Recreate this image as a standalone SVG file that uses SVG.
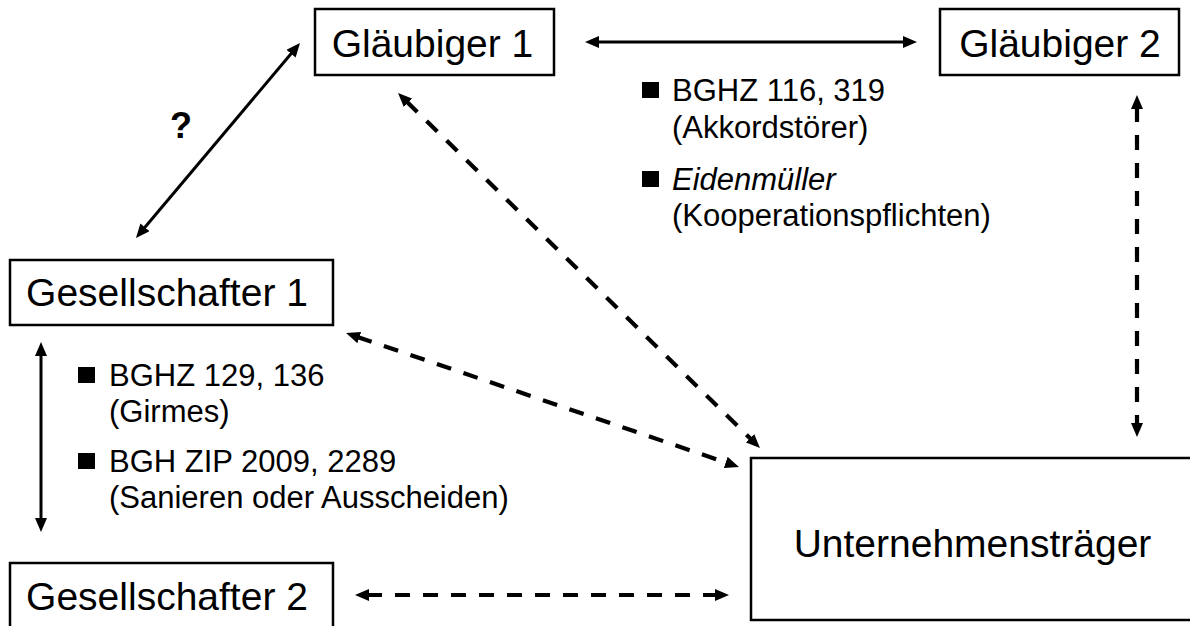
<svg xmlns="http://www.w3.org/2000/svg" width="1190" height="626" viewBox="0 0 1190 626">
<defs>
<marker id="ah" markerUnits="userSpaceOnUse" markerWidth="14" markerHeight="12" refX="2" refY="6" orient="auto-start-reverse">
<path d="M0,0 L14,6 L0,12 z" fill="#000"/>
</marker>
<style>
.box{fill:#fff;stroke:#000;stroke-width:2.5}
.bt{font-family:"Liberation Sans",Arial,sans-serif;font-size:39px;fill:#000;text-anchor:middle}
.tx{font-family:"Liberation Sans",Arial,sans-serif;font-size:31px;fill:#000}
.solid{stroke:#000;stroke-width:3;fill:none;marker-start:url(#ah);marker-end:url(#ah)}
.dash{stroke:#000;stroke-width:4.2;fill:none;stroke-dasharray:15 13;marker-start:url(#ah);marker-end:url(#ah)}
.bul{fill:#000}
</style>
</defs>
<rect width="1190" height="626" fill="#fff"/>
<g id="connectors">
<line class="solid" x1="143.7" y1="228.8" x2="292.3" y2="52.2"/>
<line class="solid" x1="597" y1="42" x2="905" y2="42"/>
<line class="solid" x1="41" y1="354" x2="41" y2="520"/>
<line class="dash" x1="406.6" y1="101.4" x2="751.4" y2="439.6"/>
<line class="dash" x1="357.4" y1="336.9" x2="727.6" y2="463.1"/>
<line class="dash" x1="367" y1="595" x2="717" y2="595"/>
<line class="dash" x1="1137" y1="107" x2="1137" y2="425"/>
</g>
<g id="glaeubiger1">
<rect class="box" x="315" y="9" width="239" height="66"/>
<text class="bt" x="432.5" y="57">Gläubiger 1</text>
</g>
<g id="glaeubiger2">
<rect class="box" x="940" y="9" width="239" height="66"/>
<text class="bt" x="1060" y="57">Gläubiger 2</text>
</g>
<g id="gesellschafter1">
<rect class="box" x="10" y="260" width="323" height="65"/>
<text class="bt" x="167" y="306">Gesellschafter 1</text>
</g>
<g id="gesellschafter2">
<rect class="box" x="10" y="563" width="323" height="80"/>
<text class="bt" x="167" y="610">Gesellschafter 2</text>
</g>
<g id="unternehmenstraeger">
<rect class="box" x="751" y="458" width="460" height="162"/>
<text class="bt" x="972.5" y="557">Unternehmensträger</text>
</g>
<g id="question">
<text x="181" y="138" font-family="Liberation Sans, Arial, sans-serif" font-size="36" font-weight="bold" text-anchor="middle">?</text>
</g>
<g id="notes-glaeubiger">
<rect class="bul" x="642" y="82" width="17" height="16"/>
<text class="tx" x="672" y="101">BGHZ 116, 319</text>
<text class="tx" x="672" y="138">(Akkordstörer)</text>
<rect class="bul" x="642" y="171" width="17" height="16"/>
<text class="tx" x="672" y="190" font-style="italic">Eidenmüller</text>
<text class="tx" x="672" y="226">(Kooperationspflichten)</text>
</g>
<g id="notes-gesellschafter">
<rect class="bul" x="78" y="367" width="17" height="16"/>
<text class="tx" x="109" y="386">BGHZ 129, 136</text>
<text class="tx" x="109" y="422">(Girmes)</text>
<rect class="bul" x="78" y="453" width="17" height="16"/>
<text class="tx" x="109" y="472">BGH ZIP 2009, 2289</text>
<text class="tx" x="109" y="508">(Sanieren oder Ausscheiden)</text>
</g>
</svg>
